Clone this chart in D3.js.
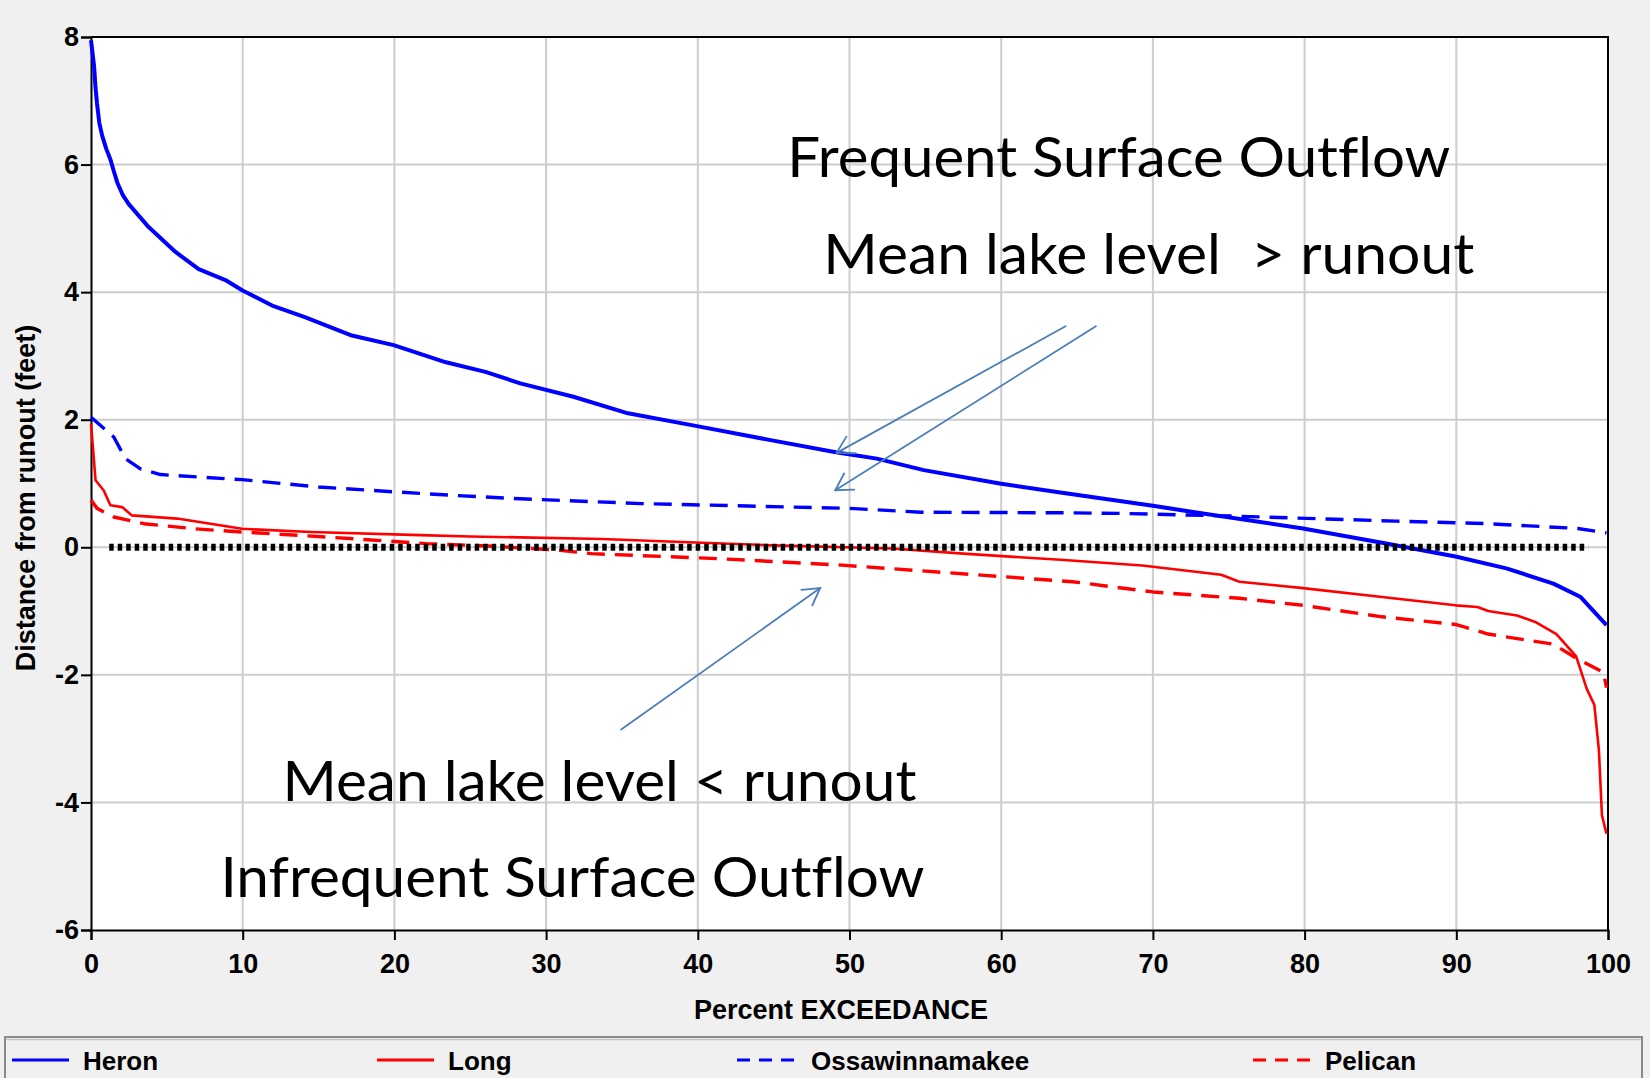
<!DOCTYPE html>
<html>
<head>
<meta charset="utf-8">
<script src="https://cdn.jsdelivr.net/npm/d3@7"></script>
<style>
  html, body { margin: 0; padding: 0; background: #f0f0f0; }
  svg { display: block; }
</style>
</head>
<body>
<div id="chart"></div>
<script>
// percent exceedance vs distance from runout (feet)
var heronPct = [0, 0.1, 0.2, 0.3, 0.4, 0.55, 0.74, 1.0, 1.28, 1.5, 1.73, 2.1, 2.49, 3.8, 5.57, 7.1, 8.86, 9.96, 11.94, 14.1, 17.2, 19.95, 23.4, 26.0, 28.3, 31.8, 35.4, 39.95, 44.8, 49.1, 51.8, 54.9, 59.9, 63.9, 70, 73.3, 79.9, 85.1, 89.95, 93.3, 96.4, 98.2, 99.9];
var heronVal = [7.95, 7.75, 7.55, 7.2, 6.95, 6.65, 6.45, 6.25, 6.08, 5.9, 5.72, 5.52, 5.38, 5.02, 4.63, 4.36, 4.19, 4.03, 3.79, 3.61, 3.32, 3.17, 2.90, 2.75, 2.57, 2.36, 2.10, 1.90, 1.68, 1.49, 1.39, 1.21, 1.00, 0.86, 0.65, 0.53, 0.295, 0.07, -0.145, -0.33, -0.57, -0.78, -1.22];

var longPct = [0, 0.3, 0.84, 1.28, 2.05, 2.7, 5.68, 7.87, 9.96, 14.5, 21.7, 25.0, 28.3, 33.7, 39.4, 45, 52.8, 57.5, 63.9, 69.3, 74.5, 75.7, 79.9, 85.1, 89.95, 91.4, 92.1, 94.0, 95.2, 96.6, 97.9, 98.6, 99.1, 99.4, 99.6, 99.9];
var longVal = [1.94, 1.05, 0.89, 0.66, 0.63, 0.50, 0.45, 0.37, 0.29, 0.24, 0.19, 0.17, 0.155, 0.13, 0.08, 0.03, -0.02, -0.1, -0.196, -0.285, -0.43, -0.54, -0.64, -0.78, -0.91, -0.935, -1.0, -1.07, -1.17, -1.36, -1.71, -2.22, -2.47, -3.18, -4.2, -4.49];

var ossPct = [0, 1.5, 2.27, 3.26, 4.58, 9.96, 15.0, 19.95, 23.8, 28.3, 36.3, 50.0, 54.7, 64.7, 68.1, 75.2, 86, 92.1, 98.0, 99.9];
var ossVal = [2.04, 1.73, 1.39, 1.23, 1.14, 1.06, 0.945, 0.87, 0.815, 0.76, 0.685, 0.61, 0.55, 0.54, 0.53, 0.49, 0.41, 0.37, 0.295, 0.225];

var pelPct = [0, 0.4, 1.5, 3.5, 6.8, 9.96, 15.6, 22.1, 26.5, 30.9, 33, 41.5, 49.5, 58.9, 64.7, 70, 75.7, 79.9, 85.1, 89.95, 92.1, 96.4, 98.0, 99.7, 99.9];
var pelVal = [0.74, 0.61, 0.475, 0.37, 0.29, 0.24, 0.16, 0.058, 0.016, -0.047, -0.1, -0.18, -0.28, -0.44, -0.54, -0.70, -0.80, -0.91, -1.09, -1.21, -1.36, -1.52, -1.75, -1.96, -2.2];

var runoutPct = [1.2, 98.7];
var runoutVal = [0, 0];

var seriesNames = ['Heron', 'Long', 'Ossawinnamakee', 'Pelican'];
var xTicks = [0, 10, 20, 30, 40, 50, 60, 70, 80, 90, 100];
var yTicks = [-6, -4, -2, 0, 2, 4, 6, 8];

// annotation text and arrows, in data units
var notes = [
  {text: 'Frequent Surface Outflow', x: 45.9, y: 5.80, len: 663},
  {text: 'Mean lake level  > runout', x: 48.27, y: 4.28, len: 651},
  {text: 'Mean lake level < runout', x: 12.62, y: -3.97, len: 634},
  {text: 'Infrequent Surface Outflow', x: 8.53, y: -5.49, len: 704}
];
var arrows = [
  {x1: 64.24, y1: 3.465, x2: 49.15, y2: 1.48},
  {x1: 66.24, y1: 3.465, x2: 49.06, y2: 0.894},
  {x1: 34.95, y1: -2.858, x2: 48.07, y2: -0.638}
];

var w = 1650, h = 1078;
var x = d3.scaleLinear().domain([0, 100]).range([91, 1608]);
var y = d3.scaleLinear().domain([-6, 8]).range([930, 37]);

var svg = d3.select('#chart').append('svg')
  .attr('width', w)
  .attr('height', h);

svg.append('rect')
  .attr('width', w).attr('height', h)
  .attr('fill', '#f0f0f0');

svg.append('rect')
  .attr('x', x(0)).attr('y', y(8))
  .attr('width', x(100) - x(0)).attr('height', y(-6) - y(8))
  .attr('fill', '#fff');

// grid
svg.append('g').selectAll('line').data(xTicks.slice(1, -1)).join('line')
  .attr('x1', d => x(d)).attr('x2', d => x(d))
  .attr('y1', y(8)).attr('y2', y(-6))
  .attr('stroke', '#cdcdcd').attr('stroke-width', 2);
svg.append('g').selectAll('line').data(yTicks.slice(1, -1)).join('line')
  .attr('x1', x(0)).attr('x2', x(100))
  .attr('y1', d => y(d)).attr('y2', d => y(d))
  .attr('stroke', '#cdcdcd').attr('stroke-width', 2);

var tickFont = '"Liberation Sans", Arial, sans-serif';

var xAxis = svg.append('g')
  .attr('transform', 'translate(0,' + y(-6) + ')')
  .call(d3.axisBottom(x).tickValues(xTicks).tickFormat(d => String(d)).tickSize(10).tickPadding(14));
var yAxis = svg.append('g')
  .attr('transform', 'translate(' + x(0) + ',0)')
  .call(d3.axisLeft(y).tickValues(yTicks).tickFormat(d => String(d)).tickSize(10).tickPadding(2));

[xAxis, yAxis].forEach(function(a) {
  a.select('.domain').attr('stroke', '#000').attr('stroke-width', 2);
  a.selectAll('.tick line').attr('stroke', '#000').attr('stroke-width', 2);
  a.selectAll('.tick text')
    .attr('fill', '#000')
    .style('font-family', tickFont)
    .style('font-weight', 'bold')
    .style('font-size', '27px');
});

// top and right border
svg.append('path')
  .attr('d', 'M' + x(0) + ',' + y(8) + 'H' + x(100) + 'V' + y(-6))
  .attr('fill', 'none').attr('stroke', '#000').attr('stroke-width', 2);

svg.append('text')
  .attr('x', 841).attr('y', 1019)
  .attr('text-anchor', 'middle')
  .style('font-family', tickFont).style('font-weight', 'bold').style('font-size', '27px')
  .text('Percent EXCEEDANCE');

svg.append('text')
  .attr('transform', 'translate(35,498) rotate(-90)')
  .attr('text-anchor', 'middle')
  .style('font-family', tickFont).style('font-weight', 'bold').style('font-size', '27px')
  .text('Distance from runout (feet)');

// series
var series = [
  {name: 'Heron', pct: heronPct, val: heronVal, color: '#0000ff', width: 4, dash: null},
  {name: 'Long', pct: longPct, val: longVal, color: '#ff0000', width: 2.6, dash: null},
  {name: 'Ossawinnamakee', pct: ossPct, val: ossVal, color: '#0000ff', width: 3.4, dash: '18,10'},
  {name: 'Pelican', pct: pelPct, val: pelVal, color: '#ff0000', width: 3.4, dash: '18,10'}
];

var line = d3.line()
  .x(d => x(d[0]))
  .y(d => y(d[1]));

series.forEach(function(s) {
  svg.append('path')
    .datum(d3.zip(s.pct, s.val))
    .attr('d', line)
    .attr('fill', 'none')
    .attr('stroke', s.color)
    .attr('stroke-width', s.width)
    .attr('stroke-linejoin', 'round')
    .attr('stroke-dasharray', s.dash);
});

// runout line
svg.append('path')
  .datum(d3.zip(runoutPct, runoutVal))
  .attr('d', line)
  .attr('fill', 'none')
  .attr('stroke', '#000')
  .attr('stroke-width', 7)
  .attr('stroke-dasharray', '4.5,4');

// annotations
notes.forEach(function(n) {
  svg.append('text')
    .attr('x', x(n.x)).attr('y', y(n.y))
    .attr('textLength', n.len)
    .attr('lengthAdjust', 'spacingAndGlyphs')
    .style('font-family', 'Lato, "Open Sans", sans-serif')
    .style('font-size', '56px')
    .style('font-variant-ligatures', 'none')
    .style('white-space', 'pre')
    .attr('xml:space', 'preserve')
    .text(n.text);
});

var arrowColor = '#4a7ebb';
arrows.forEach(function(a) {
  var x1 = x(a.x1), y1 = y(a.y1), x2 = x(a.x2), y2 = y(a.y2);
  var ang = Math.atan2(y1 - y2, x1 - x2);
  var hl = 19, ha = Math.PI / 6;
  var g = svg.append('g')
    .attr('stroke', arrowColor).attr('stroke-width', 1.8)
    .attr('fill', 'none').attr('stroke-linecap', 'round');
  g.append('line').attr('x1', x1).attr('y1', y1).attr('x2', x2).attr('y2', y2);
  g.append('path')
    .attr('d', 'M' + (x2 + hl * Math.cos(ang - ha)) + ',' + (y2 + hl * Math.sin(ang - ha)) +
      'L' + x2 + ',' + y2 +
      'L' + (x2 + hl * Math.cos(ang + ha)) + ',' + (y2 + hl * Math.sin(ang + ha)));
});

// legend
svg.append('rect')
  .attr('x', 5).attr('y', 1037)
  .attr('width', 1637).attr('height', 60)
  .attr('fill', '#f0f0f0')
  .attr('stroke', '#8a8a8a').attr('stroke-width', 2);
svg.append('line')
  .attr('x1', 6).attr('x2', 1641).attr('y1', 1039.5).attr('y2', 1039.5)
  .attr('stroke', '#c4c4c4').attr('stroke-width', 1.5);

var legendX = [12, 377, 737, 1253];
var legend = svg.append('g').selectAll('g').data(series).join('g')
  .attr('transform', (d, i) => 'translate(' + legendX[i] + ',1060)');
legend.append('line')
  .attr('x1', 0).attr('x2', 57)
  .attr('stroke', d => d.color)
  .attr('stroke-width', 3)
  .attr('stroke-dasharray', d => d.dash ? '13,9' : null);
legend.append('text')
  .attr('x', (d, i) => [71, 71, 74, 72][i])
  .attr('y', 10)
  .style('font-family', tickFont).style('font-weight', 'bold').style('font-size', '26px')
  .text(d => d.name);
</script>
</body>
</html>
